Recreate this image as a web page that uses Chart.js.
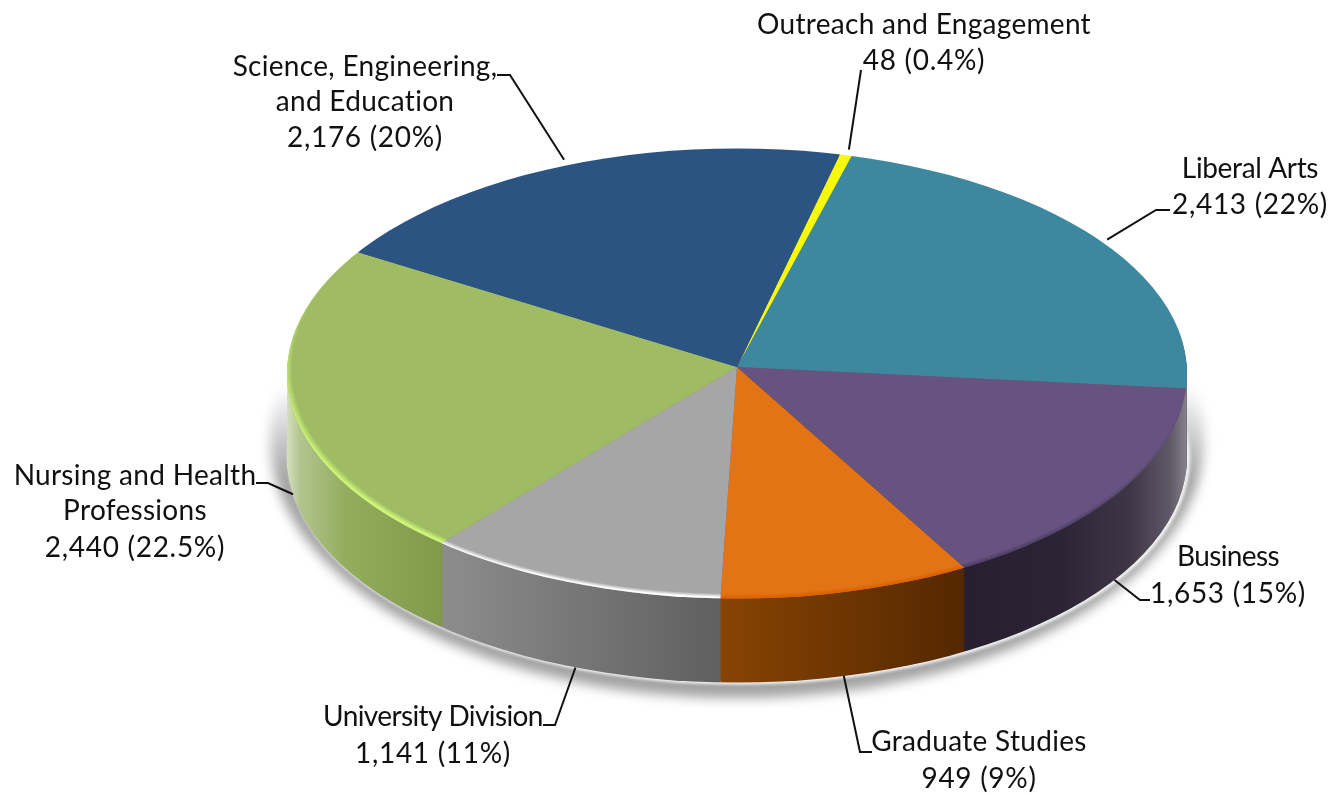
<!DOCTYPE html>
<html>
<head>
<meta charset="utf-8">
<style>
  html, body { margin: 0; padding: 0; background: #fff; }
  canvas { display: block; }
</style>
<script src="https://cdn.jsdelivr.net/npm/chart.js@4/dist/chart.umd.min.js"></script>
</head>
<body>
<canvas id="chart" width="1335" height="795"></canvas>
<script>
var categories = ['Outreach and Engagement', 'Liberal Arts', 'Business', 'Graduate Studies',
  'University Division', 'Nursing and Health Professions', 'Science, Engineering, and Education'];
var enrollment = [48, 2413, 1653, 949, 1141, 2440, 2176];
var valueLabels = ['48 (0.4%)', '2,413 (22%)', '1,653 (15%)', '949 (9%)', '1,141 (11%)', '2,440 (22.5%)', '2,176 (20%)'];
var topColors = ['#f8f80a', '#3e889f', '#67537f', '#e37416', '#a6a6a6', '#9fbc64', '#2c5482'];
var rimColors = [null, '#2f7287', '#4f3d66', '#db6400', '#ffffff', '#cdf578', null];
var wallStops = [
  [[1000, '#f8f80a']],
  [[1183, '#6a6470'], [1190, '#8a8590']],
  [[960, '#281e30'], [1060, '#2c2335'], [1130, '#3f3645'], [1170, '#5f5866'], [1188, '#8a8590']],
  [[722, '#874303'], [960, '#552801']],
  [[447, '#8c8c8c'], [722, '#5f5f5f']],
  [[287, '#d5e0bf'], [300, '#b3c48f'], [345, '#93ad5e'], [447, '#7f9849']],
  [[500, '#2c5482']]
];

// how the flat pie is laid onto the page
var apex = { x: 737, y: 367 };
var rim = { x: 737, y: 373.5, rx: 450, ry: 225 };
var depth = 84;

// text lines (centre x, baseline y) and leader bends, same order as categories
var labelBoxes = [
  { lines: ['Outreach and Engagement'], x: 924, y: 34, valueY: 70, spacing: 0.3, leader: [[861, 70]], rimSide: 'back' },
  { lines: ['Liberal Arts'], x: 1250, y: 178, valueY: 214, spacing: -0.35, leader: [[1156, 210], [1170, 210]], rimSide: 'back' },
  { lines: ['Business'], x: 1228, y: 566, valueY: 603, spacing: -0.6, leader: [[1140, 600], [1150, 600]], rimSide: 'front' },
  { lines: ['Graduate Studies'], x: 979, y: 751, valueY: 788, spacing: 0.3, leader: [[860, 752], [872, 752]], rimSide: 'front' },
  { lines: ['University Division'], x: 433, y: 726, valueY: 763, spacing: -0.6, leader: [[555, 725], [543, 725]], rimSide: 'front' },
  { lines: ['Nursing and Health', 'Professions'], x: 135, y: 485, valueY: 557, spacing: 0.3, leader: [[268, 483], [256, 483]], rimSide: 'front' },
  { lines: ['Science, Engineering,', 'and Education'], x: 365, y: 76, valueY: 147, spacing: 0.3, leader: [[510, 75], [497, 75]], rimSide: 'back' }
];

function hexAlpha(hex) {
  var n = parseInt(hex.slice(1), 16);
  return 'rgba(' + (n >> 16) + ',' + ((n >> 8) & 255) + ',' + (n & 255) + ',0)';
}

function cloneArc(arc, fill) {
  var c = Object.create(arc);
  c.outerRadius = arc.outerRadius * 1.1;
  c.options = Object.assign({}, arc.options, { backgroundColor: fill, borderWidth: 0 });
  return c;
}

function drawFace(ctx, arcs, offsetY, fills) {
  var a = arcs[0];
  ctx.save();
  ctx.beginPath();
  ctx.ellipse(rim.x, rim.y + offsetY, rim.rx, rim.ry, 0, 0, Math.PI * 2);
  ctx.clip();
  ctx.translate(apex.x, apex.y + offsetY);
  ctx.scale(rim.rx / a.outerRadius, rim.ry / a.outerRadius);
  ctx.translate(-a.x, -a.y);
  arcs.forEach(function(arc, i) {
    if (fills[i]) {
      cloneArc(arc, fills[i]).draw(ctx);
    }
  });
  ctx.restore();
}

var pie3d = {
  id: 'pie3d',
  beforeDatasetsDraw: function(chart) {
    var ctx = chart.ctx;
    var arcs = chart.getDatasetMeta(0).data;
    var a = arcs[0];
    var R = a.outerRadius;

    // soft shadow under the pie, fading out towards the top
    var sg = ctx.createLinearGradient(0, 385, 0, 480);
    sg.addColorStop(0, '#ffffff');
    sg.addColorStop(1, '#a2a2a2');
    ctx.save();
    ctx.filter = 'blur(6px)';
    ctx.fillStyle = sg;
    ctx.beginPath();
    ctx.ellipse(rim.x, 440, 467, 258, 0, 0, Math.PI * 2);
    ctx.fill();
    ctx.restore();
    ctx.save();
    ctx.filter = 'blur(1.5px)';
    ctx.fillStyle = '#f4f4f4';
    ctx.beginPath();
    ctx.ellipse(rim.x + 2, rim.y + depth + 1, rim.rx + 1, rim.ry + 1, 0, 0, Math.PI * 2);
    ctx.fill();
    ctx.restore();

    // side wall, stacked from the bottom up
    var wallFills = wallStops.map(function(stops) {
      var first = stops[0][0];
      var last = stops[stops.length - 1][0];
      var x0 = a.x + (first - apex.x) * R / rim.rx;
      var x1 = a.x + (last - apex.x) * R / rim.rx;
      var g = ctx.createLinearGradient(x0, 0, x1 + 0.01, 0);
      stops.forEach(function(s) {
        g.addColorStop(stops.length > 1 ? (s[0] - first) / (last - first) : 0, s[1]);
      });
      return g;
    });
    for (var d = depth; d > 0; d--) {
      drawFace(ctx, arcs, d, wallFills);
    }

    // top face
    drawFace(ctx, arcs, 0, topColors);

    // lighter or darker crescent along the front rim, leaning left for the green slice
    var k = R / rim.ry;
    var bevel = 5 * k;
    var cy = a.y + (rim.y - apex.y) * k - bevel;
    var rimFills = rimColors.map(function(col, i) {
      if (!col) {
        return null;
      }
      var cx = a.x + (i === 5 ? 5 * R / rim.rx : 0);
      var g = ctx.createRadialGradient(cx, cy, R, cx, cy, R + bevel);
      g.addColorStop(0, hexAlpha(col));
      g.addColorStop(0.75, col);
      g.addColorStop(1, col);
      return g;
    });
    drawFace(ctx, arcs, 0, rimFills);
    return false;
  },
  afterDraw: function(chart) {
    var ctx = chart.ctx;
    var arcs = chart.getDatasetMeta(0).data;
    ctx.save();
    ctx.textAlign = 'center';
    ctx.textBaseline = 'alphabetic';
    ctx.fillStyle = '#111';
    ctx.font = '28px Lato';
    labelBoxes.forEach(function(box, i) {
      var mid = (arcs[i].startAngle + arcs[i].endAngle) / 2;
      var ax = rim.x + rim.rx * Math.cos(mid);
      var ay = rim.y + rim.ry * Math.sin(mid) + (box.rimSide === 'front' ? depth : -6);
      ctx.strokeStyle = '#111';
      ctx.lineWidth = 2;
      ctx.beginPath();
      ctx.moveTo(ax, ay);
      box.leader.forEach(function(p) { ctx.lineTo(p[0], p[1]); });
      ctx.stroke();
      ctx.letterSpacing = box.spacing + 'px';
      box.lines.forEach(function(line, n) {
        ctx.fillText(line, box.x, box.y + n * 35);
      });
      ctx.letterSpacing = '0.7px';
      ctx.fillText(valueLabels[i], box.x, box.valueY);
    });
    ctx.restore();
  }
};

new Chart(document.getElementById('chart'), {
  type: 'pie',
  data: {
    labels: categories,
    datasets: [{ data: enrollment, backgroundColor: topColors, borderWidth: 0 }]
  },
  options: {
    responsive: false,
    animation: false,
    rotation: 13.6,
    events: [],
    plugins: { legend: { display: false }, tooltip: { enabled: false } }
  },
  plugins: [pie3d]
});
</script>
</body>
</html>
